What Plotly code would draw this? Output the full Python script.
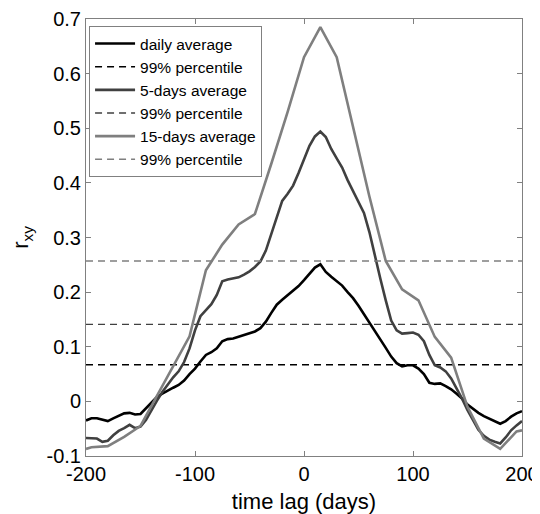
import plotly.graph_objects as go

# ---- data ----
lag_5 = list(range(-200, 201, 5))
daily_avg = [-0.035, -0.031, -0.031, -0.034, -0.036, -0.031, -0.026, -0.022, -0.021, -0.024,
             -0.023, -0.013, -0.003, 0.008, 0.014, 0.020, 0.025, 0.030, 0.038, 0.050,
             0.060, 0.073, 0.085, 0.090, 0.097, 0.110, 0.114, 0.115, 0.118, 0.121,
             0.124, 0.128, 0.134, 0.146, 0.162, 0.177, 0.186, 0.194, 0.202, 0.211,
             0.222, 0.234, 0.245, 0.251, 0.237, 0.228, 0.220, 0.212, 0.200, 0.189,
             0.175, 0.160, 0.145, 0.130, 0.115, 0.098, 0.082, 0.070, 0.064, 0.066,
             0.066, 0.060, 0.050, 0.034, 0.032, 0.033, 0.028, 0.022, 0.014, 0.005,
             -0.006, -0.014, -0.021, -0.027, -0.032, -0.037, -0.041, -0.036, -0.028, -0.022,
             -0.018]
avg_5days = [-0.067, -0.067, -0.068, -0.074, -0.072, -0.062, -0.054, -0.049, -0.043, -0.049,
             -0.046, -0.034, -0.016, 0.001, 0.017, 0.031, 0.044, 0.055, 0.072, 0.097,
             0.130, 0.156, 0.168, 0.178, 0.195, 0.220, 0.223, 0.225, 0.227, 0.232,
             0.238, 0.246, 0.256, 0.276, 0.307, 0.340, 0.367, 0.380, 0.395, 0.418,
             0.443, 0.468, 0.485, 0.494, 0.484, 0.462, 0.445, 0.428, 0.405, 0.385,
             0.365, 0.345, 0.310, 0.265, 0.225, 0.185, 0.148, 0.130, 0.124, 0.125,
             0.126, 0.122, 0.110, 0.085, 0.066, 0.062, 0.055, 0.042, 0.024, 0.005,
             -0.016, -0.035, -0.052, -0.063, -0.070, -0.074, -0.077, -0.066, -0.053, -0.044,
             -0.036]
lag_15 = [-200, -195, -180, -165, -150, -135, -120, -105, -90, -75, -60, -45, -30, -15,
          0, 15, 30, 45, 60, 75, 90, 105, 120, 135, 150, 165, 180, 195, 200]
avg_15days = [-0.087, -0.084, -0.082, -0.065, -0.045, 0.010, 0.064, 0.119, 0.240, 0.287,
              0.324, 0.343, 0.435, 0.530, 0.630, 0.685, 0.630, 0.500, 0.375, 0.257,
              0.205, 0.185, 0.118, 0.080, -0.010, -0.068, -0.087, -0.055, -0.053]
pct99_daily = 0.067
pct99_5days = 0.141
pct99_15days = 0.257

series_names = ["daily average", "5-days average", "15-days average"]
pct_name = "99% percentile"

x_ticks = [-200, -100, 0, 100, 200]
x_ticktext = ["-200", "-100", "0", "100", "200"]
y_ticks = [-0.1, 0, 0.1, 0.2, 0.3, 0.4, 0.5, 0.6, 0.7]
y_ticktext = ["-0.1", "0", "0.1", "0.2", "0.3", "0.4", "0.5", "0.6", "0.7"]

# ---- styles ----
FONT = "Liberation Sans, Arial, sans-serif"
c_daily = "#000000"
c_5 = "#404040"
c_15 = "#7f7f7f"
x_range = [-200, 200]

fig = go.Figure()

def add_pair(x, y, name, color, pct, pct_color):
    fig.add_trace(go.Scatter(x=x, y=y, mode="lines", name=name,
                             line=dict(color=color, width=2.6)))
    fig.add_trace(go.Scatter(x=x_range, y=[pct, pct], mode="lines", name=pct_name,
                             line=dict(color=pct_color, width=1.4, dash="7px,5px")))

add_pair(lag_5, daily_avg, series_names[0], c_daily, pct99_daily, "#000000")
add_pair(lag_5, avg_5days, series_names[1], c_5, pct99_5days, "#404040")
add_pair(lag_15, avg_15days, series_names[2], c_15, pct99_15days, "#7f7f7f")

axis_common = dict(
    showline=True, linecolor="#808080", linewidth=1, mirror="ticks",
    ticks="inside", ticklen=5, tickcolor="#808080",
    showgrid=False, zeroline=False, automargin=False,
    ticklabeloverflow="allow",
    tickfont=dict(family=FONT, size=20, color="#000000"),
)

# page body has an 8px default margin, so the figure is 532x506 inside a 540x514 window
fig.update_layout(
    width=532, height=506,
    margin=dict(l=78, r=18, t=11, b=58),
    paper_bgcolor="white", plot_bgcolor="white",
    font=dict(family=FONT, color="#000000"),
    showlegend=True,
    legend=dict(x=0.007, y=0.984, xanchor="left", yanchor="top",
                bgcolor="white", bordercolor="#808080", borderwidth=1,
                font=dict(family=FONT, size=15.5), tracegroupgap=0, itemwidth=40),
    xaxis=dict(range=x_range, tickvals=x_ticks, ticktext=x_ticktext,
               title=dict(text="time lag (days)", font=dict(family=FONT, size=22), standoff=9),
               **axis_common),
    yaxis=dict(range=[-0.1, 0.7], tickvals=y_ticks, ticktext=y_ticktext,
               title=dict(text="r<sub>xy</sub>", font=dict(family=FONT, size=22), standoff=22),
               **axis_common),
)

fig.write_html("out.html")
